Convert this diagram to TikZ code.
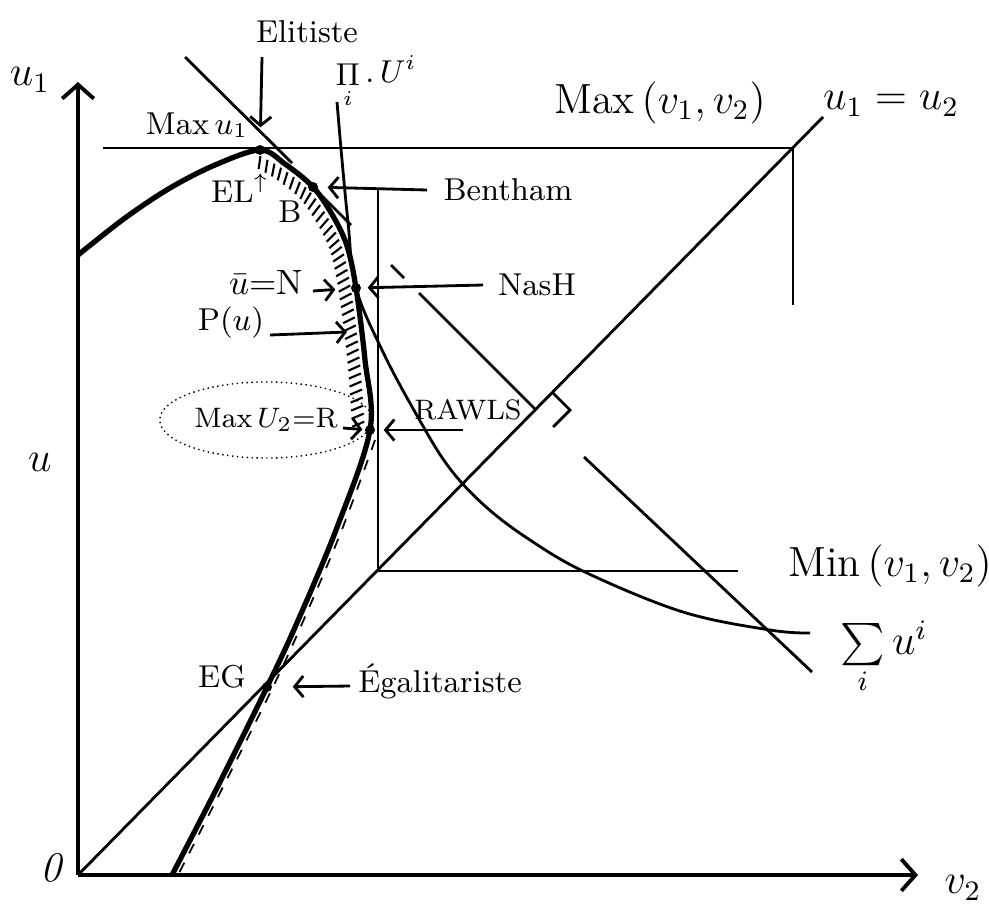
\documentclass[tikz,border=0pt]{standalone}
\usepackage{amsfonts, amssymb, amsmath}
\usepackage{tikz}
\usetikzlibrary{arrows.meta, decorations.markings, shapes.geometric}

\tikzset{
    axis/.style={line width=1.1pt, -{Straight Barb[length=4pt, width=9pt]}},
    thinline/.style={line width=0.8pt},
    frontier/.style={line width=1.5pt},
    hatch/.style={postaction={decorate, decoration={markings,
        mark=between positions 0.01 and 0.99 step 2.3pt with {\draw[line width=0.6pt] (0pt,-1.5pt) -- (1.2pt,-5pt);}}}},
    pointer/.style={line width=0.8pt, -{Straight Barb[length=2.5pt, width=6pt]}},
    dot/.style={circle, fill, inner sep=0pt, minimum size=0.1cm},
    lbl/.style={font=\small, inner sep=1pt},
    biglbl/.style={font=\large, inner sep=1pt}
}

\begin{document}
\begin{tikzpicture}[x=0.01cm, y=-0.01cm]
    \useasboundingbox (0,0) rectangle (989,903);

    \coordinate (O) at (78,875);
    \coordinate (yend) at (78,82);
    \coordinate (xend) at (918,875);
    \coordinate (diagend) at (823,117);
    \coordinate (maxcorner) at (793,148);
    \coordinate (mincorner) at (378,571);
    \coordinate (cross) at (536,410);
    \coordinate (pEL) at (260,150);
    \coordinate (pB) at (313,187);
    \coordinate (pN) at (356,288);
    \coordinate (pR) at (370,430);
    \coordinate (pEG) at (267,687);

    \draw[axis] (O) -- (yend);
    \draw[axis] (O) -- (xend);
    \draw[thinline] (O) -- (diagend);

    \draw[thinline] (103,148) -- (maxcorner) -- (793,305);
    \draw[thinline] (378,188) -- (mincorner) -- (738,571);

    \draw[thinline] (185,57) -- (292,163);

    \draw[thinline] (313,187) -- (351,225);
    \draw[thinline] (391,265) -- (404,278);
    \draw[thinline] (419,293) -- (cross);
    \draw[thinline] (584,457) -- (812,672);
    \draw[thinline] (cross) ++(17,-17) -- ++(17,17) -- ++(-17,17);

    \draw[thinline] plot[smooth, tension=0.6] coordinates {(337,102) (342,160) (348,222) (pN) (383,352) (415,412) (448,466) (485,506) (530,540) (587,573) (683,612) (770,630) (810,633)};

    \draw[frontier] plot[smooth, tension=0.55] coordinates {(78,255) (125,218) (170,188) (215,165) (pEL) (285,164) (pB) (333,216) (347,246) (pN) (365,360) (pR) (336,530) (296,625) (pEG) (221,780) (172,875)};
    \path[hatch] plot[smooth, tension=0.55] coordinates {(pEL) (285,164) (pB) (333,216) (347,246) (pN) (365,360) (pR)};
    \draw[line width=0.5pt, dashed] plot[smooth, tension=0.55] coordinates {(375,440) (341,532) (301,626) (272,689) (226,781) (178,875)};

    \node[dot] (EL) at (pEL) {};
    \node[dot] (B) at (pB) {};
    \node[dot] (N) at (pN) {};
    \node[dot] (R) at (pR) {};
    \node[dot] (EG) at (pEG) {};

    \node[biglbl] (u1lab) at (30,80) {$u_1$};
    \node[biglbl] (v2lab) at (963,888) {$v_2$};
    \node[biglbl] (ulab) at (40,462) {$u$};
    \node[biglbl] (zero) at (52,868) {\textit{0}};
    \node[lbl] (maxuone) at (197,125) {Max$\,u_1$};
    \node[biglbl] (maxvv) at (660,103) {Max$\,(v_1,v_2)$};
    \node[biglbl] (diaglab) at (891,104) {$u_1=u_2$};
    \node[biglbl] (minvv) at (890,566) {Min$\,(v_1,v_2)$};
    \node[biglbl] (sumlab) at (884,658) {$\sum\limits_i u^i$};
    \node[lbl] (nashprod) at (376,82) {$\mathop{\Pi}\limits_{i}.\,U^{i}$};
    \node[lbl] (elitist) at (307,32) {Elitiste};
    \node[lbl] (bentham) at (508,190) {Bentham};
    \node[lbl] (nash) at (537,285) {NasH};
    \node[font=\footnotesize, inner sep=1pt] (rawls) at (468,410) {RAWLS};
    \node[lbl] (ellab) at (240,188) {EL$^{\uparrow}$};
    \node[lbl] (blab) at (290,212) {B};
    \node[font=\normalsize, inner sep=1pt] (ubarlab) at (266,282) {$\bar{u}$=N};
    \node[lbl] (plab) at (231,323) {P($u$)};
    \node[ellipse, draw, densely dotted, font=\footnotesize, inner sep=1pt,
        minimum width=1.6cm, minimum height=0.76cm] (maxr) at (266,420) {Max$\,U_2$=R};
    \node[lbl] (eglab) at (222,677) {EG};
    \node[lbl] (egal) at (440,681) {Égalitariste};

    \coordinate (elfrom) at (262,57);
    \coordinate (bfrom) at (427,190);
    \coordinate (nfrom) at (483,285);
    \coordinate (ubarfrom) at (313,291);
    \coordinate (pfrom) at (270,335);
    \coordinate (ptip) at (347,332);
    \coordinate (rfrom) at (343,428);
    \coordinate (rawlsfrom) at (463,430);
    \coordinate (egfrom) at (350,686);

    \draw[pointer, shorten >=0.17cm] (elfrom) -- (EL);
    \draw[pointer, shorten >=0.09cm] (bfrom) -- (B);
    \draw[pointer, shorten >=0.06cm] (nfrom) -- (N);
    \draw[pointer, shorten >=0.15cm] (ubarfrom) -- (N);
    \draw[pointer] (pfrom) -- (ptip);
    \draw[pointer, shorten >=0.02cm] (rfrom) -- (R);
    \draw[pointer, shorten >=0.08cm] (rawlsfrom) -- (R);
    \draw[pointer, shorten >=0.2cm] (egfrom) -- (EG);
\end{tikzpicture}
\end{document}
